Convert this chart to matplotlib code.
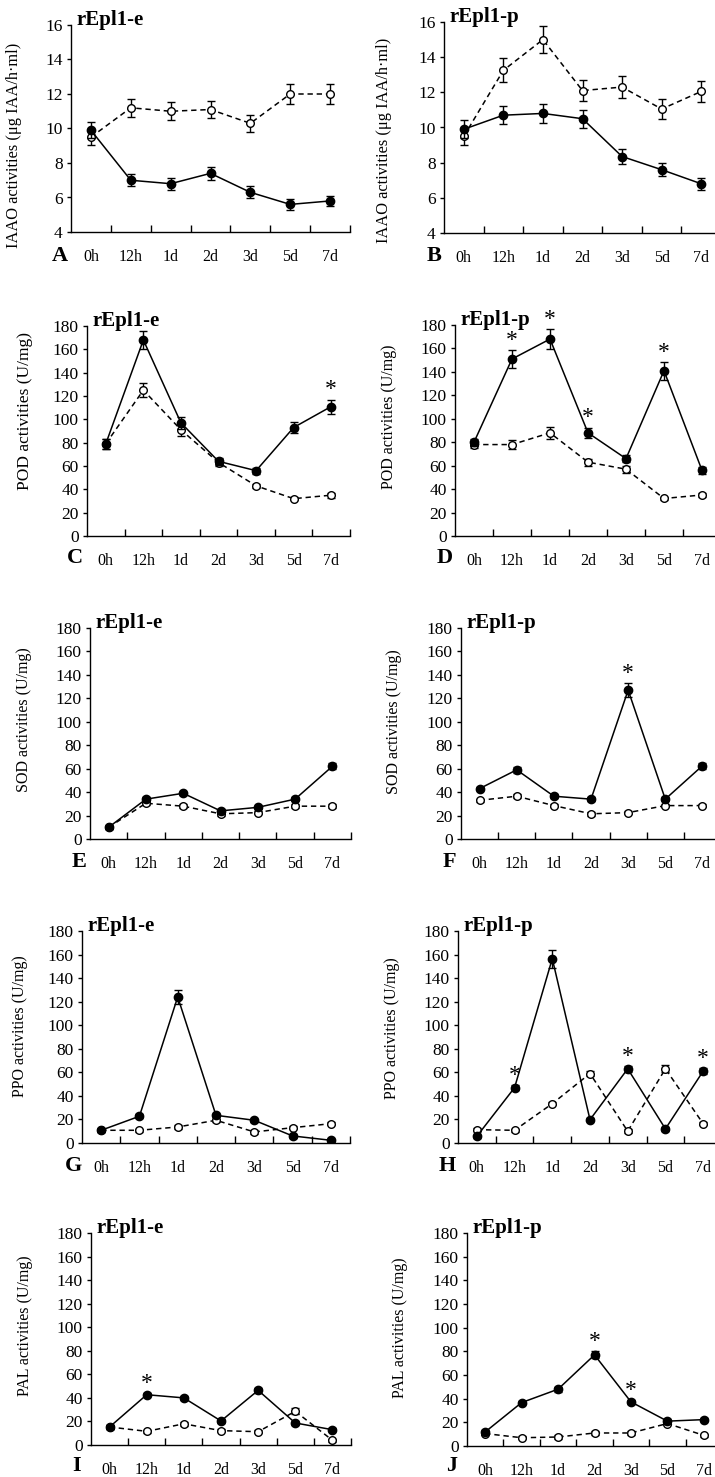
"""Enzyme activity time courses, rEpl1-e vs rEpl1-p (panels A-J)."""
import matplotlib
matplotlib.use("Agg")
import matplotlib.pyplot as plt
import numpy as np

plt.rcParams["font.family"] = ["Liberation Serif", "DejaVu Serif"]

W, H = 715, 1477
times = ["0h", "12h", "1d", "2d", "3d", "5d", "7d"]

# ---- data (filled = treated, open = control) ----
iaao_e_fill = [9.9, 7.0, 6.8, 7.4, 6.3, 5.6, 5.8]
iaao_e_fill_err = [0.45, 0.35, 0.35, 0.38, 0.35, 0.3, 0.3]
iaao_e_open = [9.5, 11.2, 11.0, 11.1, 10.3, 12.0, 12.0]
iaao_e_open_err = [0.45, 0.52, 0.52, 0.52, 0.5, 0.58, 0.6]

iaao_p_fill = [9.9, 10.7, 10.8, 10.5, 8.35, 7.6, 6.8]
iaao_p_fill_err = [0.5, 0.52, 0.52, 0.52, 0.42, 0.38, 0.33]
iaao_p_open = [9.5, 13.25, 15.0, 12.1, 12.3, 11.05, 12.05]
iaao_p_open_err = [0.47, 0.68, 0.75, 0.6, 0.62, 0.55, 0.6]

pod_e_fill = [79, 168, 97, 64, 56, 93, 111]
pod_e_fill_err = [4, 8, 5, 3, 2.5, 5, 6]
pod_e_open = [79, 125, 91, 63, 43, 32, 35]
pod_e_open_err = [4, 6, 5, 3, 2, 1.5, 2]

pod_p_fill = [80, 151, 168, 88, 66, 141, 56]
pod_p_fill_err = [3, 7.5, 8.5, 4.5, 3, 7.5, 3]
pod_p_open = [78, 78, 88, 63, 57, 32, 35]
pod_p_open_err = [3, 4, 5, 3, 3, 1.5, 2]

sod_e_fill = [10, 34, 39, 24, 27, 34, 62]
sod_e_fill_err = [1.5, 1.5, 1.5, 1.5, 1.5, 1.5, 2.5]
sod_e_open = [10, 30.5, 28, 21.5, 22.5, 28, 28]
sod_e_open_err = [1.5, 1.5, 1.5, 1.5, 1.5, 1.5, 1.5]

sod_p_fill = [43, 59, 36.5, 34, 127, 34, 62.5]
sod_p_fill_err = [1.5, 2.5, 1.5, 1.5, 6, 1.5, 2.5]
sod_p_open = [33, 36.5, 28.5, 21.5, 22.5, 28.5, 28.5]
sod_p_open_err = [1.5, 1.5, 1.5, 1.5, 1.5, 1.5, 1.5]

ppo_e_fill = [10.8, 22.7, 124, 23.5, 19.3, 6, 2.3]
ppo_e_fill_err = [1.5, 1.5, 6, 1.5, 1.5, 1.5, 1.5]
ppo_e_open = [10.8, 10.8, 13.6, 19.3, 9.4, 13, 16.4]
ppo_e_open_err = [1.5, 1.5, 1.5, 1.5, 1.5, 1.5, 1.5]

ppo_p_fill = [5.7, 47, 156.5, 19.8, 63, 12, 61]
ppo_p_fill_err = [1.5, 2, 7.5, 1.5, 2.5, 1.5, 2.5]
ppo_p_open = [11.3, 10.8, 33.4, 59, 10, 63, 16.4]
ppo_p_open_err = [1.5, 1.5, 1.5, 2.5, 1.5, 3, 1.5]

pal_e_fill = [15.3, 42.7, 40, 20.4, 46.4, 18.7, 13]
pal_e_fill_err = [1.5, 1.5, 1.5, 1.5, 2, 1.5, 1.5]
pal_e_open = [15.3, 11.6, 18, 12.2, 11.3, 28.6, 4]
pal_e_open_err = [1.5, 1.5, 1.5, 1.5, 1.5, 2.5, 1.5]

pal_p_fill = [11.9, 36.7, 48, 77, 37.3, 21, 22.3]
pal_p_fill_err = [1.5, 1.5, 2, 3, 1.5, 1.5, 1.5]
pal_p_open = [10.5, 7, 7.6, 11, 11, 19, 9]
pal_p_open_err = [1.5, 1.5, 1.5, 1.5, 1.5, 1.5, 1.5]

iaao_label = "IAAO activities (μg IAA/h·ml)"
enz_labels = ["POD activities (U/mg)", "SOD activities (U/mg)",
              "PPO activities (U/mg)", "PAL activities (U/mg)"]
iaao_ticks = [4, 6, 8, 10, 12, 14, 16]
enz_ticks = list(range(0, 181, 20))

panels = [
    ("A", "rEpl1-e", iaao_label, iaao_ticks, iaao_e_fill, iaao_e_fill_err, iaao_e_open, iaao_e_open_err, []),
    ("B", "rEpl1-p", iaao_label, iaao_ticks, iaao_p_fill, iaao_p_fill_err, iaao_p_open, iaao_p_open_err, []),
    ("C", "rEpl1-e", enz_labels[0], enz_ticks, pod_e_fill, pod_e_fill_err, pod_e_open, pod_e_open_err, [6]),
    ("D", "rEpl1-p", enz_labels[0], enz_ticks, pod_p_fill, pod_p_fill_err, pod_p_open, pod_p_open_err, [1, 2, 3, 5]),
    ("E", "rEpl1-e", enz_labels[1], enz_ticks, sod_e_fill, sod_e_fill_err, sod_e_open, sod_e_open_err, []),
    ("F", "rEpl1-p", enz_labels[1], enz_ticks, sod_p_fill, sod_p_fill_err, sod_p_open, sod_p_open_err, [4]),
    ("G", "rEpl1-e", enz_labels[2], enz_ticks, ppo_e_fill, ppo_e_fill_err, ppo_e_open, ppo_e_open_err, []),
    ("H", "rEpl1-p", enz_labels[2], enz_ticks, ppo_p_fill, ppo_p_fill_err, ppo_p_open, ppo_p_open_err, [1, 4, 6]),
    ("I", "rEpl1-e", enz_labels[3], enz_ticks, pal_e_fill, pal_e_fill_err, pal_e_open, pal_e_open_err, [1]),
    ("J", "rEpl1-p", enz_labels[3], enz_ticks, pal_p_fill, pal_p_fill_err, pal_p_open, pal_p_open_err, [3, 4]),
]

# layout in pixels: axes left, right, top, bottom; panel letter x, y;
# y-label centre x, y; y-label font size
boxes = [
    (71, 350, 25, 232, 60, 256, 22, 145, 11.8),
    (444, 721, 22, 233, 434, 256, 392, 140, 11.8),
    (87, 350, 326, 536, 75, 558, 33, 411, 12.5),
    (455, 721, 325, 536, 445, 558, 397, 417, 11.5),
    (90, 351, 628, 839, 79, 862, 32, 720, 11.5),
    (461, 721, 628, 839, 449, 862, 402, 722, 11.5),
    (82, 350, 931, 1143, 73, 1166, 28, 1026, 11.5),
    (458, 722, 931, 1143, 447, 1166, 400, 1028, 11.5),
    (91, 351, 1233, 1445, 77, 1466, 33, 1326, 11.5),
    (467, 722, 1233, 1446, 452, 1466, 408, 1328, 11.5),
]

fig = plt.figure(figsize=(W / 100, H / 100), dpi=100)
x = np.arange(len(times)) + 0.5

for (letter, title, ylab, yt, yf, ef, yo, eo, stars), \
        (l, r, t, b, lx, ly, yx, yy, yfs) in zip(panels, boxes):
    ax = fig.add_axes([l / W, 1 - b / H, (r - l) / W, (b - t) / H])
    ax.errorbar(x, yo, yerr=eo, ls=(0, (3.5, 2.5)), color="k", lw=1.1,
                marker="o", ms=5.5, mfc="white", mec="k", mew=1.0,
                capsize=3, elinewidth=1.0, capthick=1.0, zorder=2)
    ax.errorbar(x, yf, yerr=ef, ls="-", color="k", lw=1.1,
                marker="o", ms=6, mfc="k", mec="k",
                capsize=3, elinewidth=1.0, capthick=1.0, zorder=3)
    for i in stars:
        ax.annotate("*", (x[i], yf[i] + ef[i]), xytext=(0, -0.5),
                    textcoords="offset points", ha="center", va="bottom",
                    fontsize=17)

    ax.set_xlim(0, len(times))
    ax.set_ylim(yt[0], yt[-1])
    ax.set_yticks(yt)
    ax.set_xticks(np.arange(1, len(times) + 1))
    ax.set_xticklabels([])
    ax.set_xticks(x, minor=True)
    ax.set_xticklabels(times, minor=True)
    ax.tick_params(axis="x", which="major", direction="in", length=5, width=1)
    ax.tick_params(axis="x", which="minor", length=0, pad=12, labelsize=11.5)
    ax.tick_params(axis="y", direction="out", length=3, width=1, labelsize=12.5, pad=3)
    for s in ("top", "right"):
        ax.spines[s].set_visible(False)
    for s in ("left", "bottom"):
        ax.spines[s].set_linewidth(1.0)
    ax.set_ylabel(ylab, fontsize=yfs)
    ax.yaxis.set_label_coords((yx - l) / (r - l), (b - yy) / (b - t))
    ax.text(0.02, 1.0, title, transform=ax.transAxes, ha="left", va="baseline",
            fontsize=15, fontweight="bold")
    fig.text(lx / W, 1 - ly / H, letter, ha="center", va="center",
             fontsize=16, fontweight="bold")

fig.savefig("out.png", dpi=100)
